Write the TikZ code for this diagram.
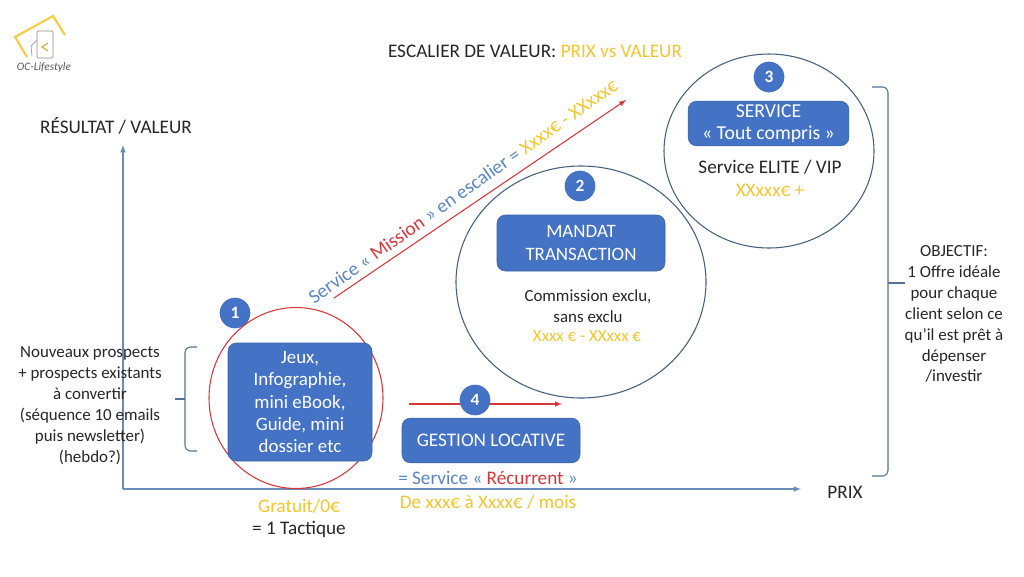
\documentclass[tikz,border=0pt]{standalone}
\usepackage{fontspec}
\setmainfont{Carlito}
\definecolor{boxblue}{HTML}{4472C4}
\definecolor{axisblue}{HTML}{6A8CB8}
\definecolor{ringgrey}{HTML}{44607F}
\definecolor{offerred}{HTML}{D9363A}
\definecolor{priceyellow}{HTML}{F5C52E}
\definecolor{servblue}{HTML}{5B86C0}
\def\sizeA{\fontsize{14.4}{16.5}\selectfont}
\def\sizeB{\fontsize{12.7}{15.7}\selectfont}
\def\sizeC{\fontsize{14.2}{16.7}\selectfont}
\tikzset{
	offerbox/.style={draw=boxblue!85!black, fill=boxblue, rounded corners=2.2mm, text=white, align=center, inner sep=0pt},
	badge/.style={circle, fill=boxblue, text=white, minimum size=23pt, inner sep=0pt, font=\fontsize{13}{15}\selectfont\bfseries},
	ring/.style={draw=ringgrey, line width=0.8pt},
	label/.style={align=center, inner sep=0pt, text=black!85},
	axis/.style={draw=axisblue, line width=0.9pt, -latex},
	brace/.style={draw=axisblue!80!black, line width=0.8pt, rounded corners=1.5mm},
	redarrow/.style={draw=offerred, line width=0.8pt, -latex}
}
\begin{document}
\begin{tikzpicture}[x=0.75pt, y=-0.75pt]
		%%%%% frame %%%%%
		\useasboundingbox (0, 0) rectangle (1024, 576);
		
		%%%%% axes %%%%%
		\coordinate (origin) at (123, 489);
		\coordinate (ytip) at (123, 145);
		\coordinate (xtip) at (801, 489);
		\draw[axis] (origin) -- (ytip);
		\draw[axis] (origin) -- (xtip);
		
		%%%%% logo %%%%%
		\draw[draw=priceyellow!85!white, line width=1.7pt, line join=miter] (27, 57) -- (15, 37) -- (53, 16) -- (65, 35);
		\draw[draw=black!45, line width=0.6pt, rounded corners=1pt] (37, 31) rectangle (53, 58);
		\draw[draw=priceyellow!85!black, line width=0.8pt] (48, 43) -- (42, 47) -- (48, 51);
		\draw[draw=black!35, line width=0.6pt] (37, 40) -- (31, 46) -- (32, 56);
		\node[inner sep=0pt, text=black!65, font=\fontsize{8.5}{10}\selectfont\itshape] (logotext) at (44, 67) {OC-Lifestyle};
		
		%%%%% titles %%%%%
		\node[label, font=\sizeA] (title) at (535, 51) {ESCALIER DE VALEUR: \textcolor{priceyellow}{PRIX vs VALEUR}};
		\node[label, font=\sizeA] (ylabel) at (116, 126) {RÉSULTAT / VALEUR};
		\node[label, font=\sizeA] (xlabel) at (845, 492) {PRIX};
		
		%%%%% offer 1 %%%%%
		\node[badge] (badgeA) at (235, 313) {1};
		\draw[draw=offerred, line width=0.8pt] (296, 398) ellipse (87 and 90.5);
		\node[offerbox, minimum width=108pt, minimum height=88.5pt, font=\sizeC] (boxA) at (300, 402) {Jeux,\\Infographie,\\mini eBook,\\Guide, mini\\dossier etc};
		\node[label, font=\sizeA] (freeprice) at (299, 506) {\textcolor{priceyellow}{Gratuit/0€}};
		\node[label, font=\sizeA] (tactic) at (299, 529) {= 1 Tactique};
		
		%%%%% prospects %%%%%
		\node[label, font=\sizeB] (prospects) at (90, 406) {Nouveaux prospects\\+ prospects existants\\à convertir\\(séquence 10 emails\\puis newsletter)\\(hebdo?)};
		\coordinate (braceL) at (175, 399);
		\draw[brace] (197, 347) -- (185, 347) -- (185, 451) -- (197, 451);
		\draw[brace] (braceL) -- (185, 399);
		
		%%%%% offer 2 %%%%%
		\draw[ring] (581, 282) ellipse (125 and 116);
		\node[badge] (badgeB) at (580, 186) {2};
		\node[offerbox, minimum width=126pt, minimum height=42pt, font=\sizeC] (boxB) at (581, 243) {MANDAT\\TRANSACTION};
		\node[label, font=\sizeB] (commission) at (588, 306) {Commission exclu,\\sans exclu};
		\node[label, font=\sizeB] (priceB) at (587, 336) {\textcolor{priceyellow}{Xxxx € - XXxxx €}};
		
		%%%%% offer 3 %%%%%
		\draw[ring] (769, 151) ellipse (105 and 97);
		\node[badge] (badgeC) at (769, 77) {3};
		\node[offerbox, minimum width=120.5pt, minimum height=33.5pt, font=\fontsize{14.8}{16.5}\selectfont] (boxC) at (768.5, 123.5) {SERVICE\\« Tout compris »};
		\node[label, font=\sizeA] (elite) at (770, 167) {Service ELITE / VIP};
		\node[label, font=\sizeA] (priceC) at (770, 190) {\textcolor{priceyellow}{XXxxx€ +}};
		
		%%%%% offer 4 %%%%%
		\coordinate (rentL) at (409, 404);
		\coordinate (rentR) at (562, 404);
		\draw[redarrow] (rentL) -- (rentR);
		\node[badge] (badgeD) at (475, 400) {4};
		\node[offerbox, minimum width=133.5pt, minimum height=33.5pt, font=\sizeA] (boxD) at (491, 440.5) {GESTION LOCATIVE};
		\node[label, font=\sizeA] (recurring) at (488, 478) {\textcolor{servblue}{= Service «} \textcolor{offerred}{Récurrent} \textcolor{servblue}{»}};
		\node[label, font=\sizeA] (priceD) at (488, 502) {\textcolor{priceyellow}{De xxx€ à Xxxx€ / mois}};
		
		%%%%% mission arrow %%%%%
		\coordinate (missionL) at (334, 298);
		\coordinate (missionR) at (626, 100);
		\draw[redarrow] (missionL) -- (missionR);
		\node[label, rotate=35.3, font=\fontsize{14.6}{17}\selectfont] (mission) at (463, 191) {\textcolor{servblue}{Service «} \textcolor{offerred}{Mission} \textcolor{servblue}{» en escalier =} \textcolor{priceyellow}{Xxxx€ - XXxxx€}};
		
		%%%%% objective %%%%%
		\coordinate (braceR) at (905, 283);
		\draw[brace] (872, 87) -- (888, 87) -- (888, 476) -- (872, 476);
		\draw[brace] (888, 283) -- (braceR);
		\node[label, font=\sizeB] (objective) at (954, 314) {OBJECTIF:\\1 Offre idéale\\pour chaque\\client selon ce\\qu’il est prêt à\\dépenser\\/investir};
		
\end{tikzpicture}
\end{document}
